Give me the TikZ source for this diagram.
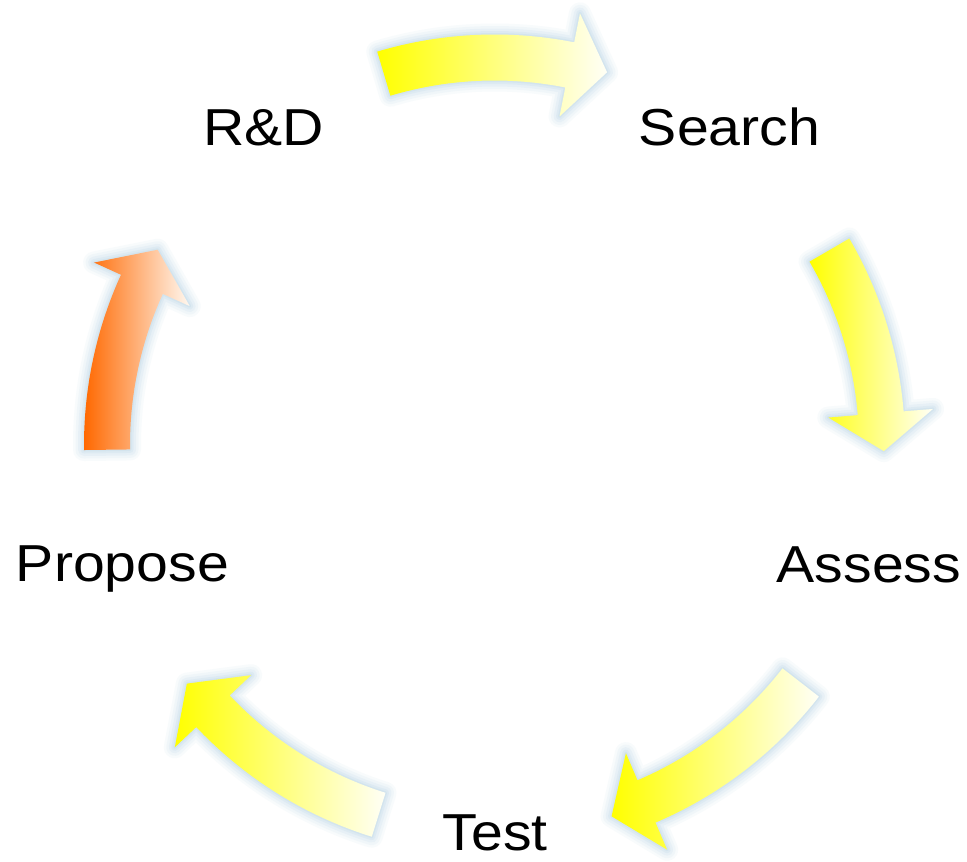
\documentclass[tikz,border=0pt]{standalone}
\usepackage{fontspec}
\setmainfont{Liberation Sans}
\definecolor{glowblue}{RGB}{190,216,232}
\definecolor{hotyellow}{RGB}{255,255,0}
\definecolor{paleyellow}{RGB}{255,255,246}
\definecolor{hotorange}{RGB}{255,104,0}
\definecolor{paleorange}{RGB}{255,248,240}

% ring geometry (1 unit = 1pt, y grows downwards)
\def\cx{494.5}\def\cy{445}
\def\R{387.5}   % centre line of the ring
\def\hw{23}     % half width of a shaft
\def\hh{52.5}   % half width of a head
\def\hl{38}     % length of a head

% curved arrow along the ring, from angle #1 to angle #2 (clockwise)
\newcommand{\ringarrow}[2]{%
  plot[domain=#1:#2,samples=40] ({\cx+(\R+\hw)*cos(\x)},{\cy+(\R+\hw)*sin(\x)})
  -- ({\cx+(\R+\hh)*cos(#2)},{\cy+(\R+\hh)*sin(#2)})
  -- ({\cx+\R*cos(#2)-\hl*sin(#2)},{\cy+\R*sin(#2)+\hl*cos(#2)})
  -- ({\cx+(\R-\hh)*cos(#2)},{\cy+(\R-\hh)*sin(#2)})
  -- plot[domain=#2:#1,samples=40] ({\cx+(\R-\hw)*cos(\x)},{\cy+(\R-\hw)*sin(\x)})
  -- cycle}

% soft halo, then the shaded body
\newcommand{\drawringarrow}[4]{%
  \foreach \lw/\op in {22/0.10,17/0.13,12/0.17,7/0.22,3/0.3}{
    \draw[line width=\lw pt, draw=glowblue, opacity=\op, line join=round] \ringarrow{#1}{#2};
  }
  \shade[left color=#3, right color=#4] \ringarrow{#1}{#2};
}

\tikzset{
  lbl/.style={anchor=base, inner sep=0pt, xscale=1.1,
    font=\fontsize{52}{60}\selectfont, text=black}
}

\begin{document}
\begin{tikzpicture}[x=1pt,y=-1pt]
  \useasboundingbox[fill=white] (0,0) rectangle (967,862);

  \drawringarrow{253.4}{281.2}{hotyellow}{paleyellow}
  \drawringarrow{329.8}{355.3}{hotyellow}{paleyellow}
  \drawringarrow{37.8}{66.9}{hotyellow}{paleyellow}
  \drawringarrow{107.4}{136.6}{hotyellow}{paleyellow}
  \drawringarrow{179.3}{204.5}{hotorange}{paleorange}

  \node[lbl] (rd)      at (263.5,145) {R\&D};
  \node[lbl] (search)  at (729.5,145) {Search};
  \node[lbl] (assess)  at (869,582)   {Assess};
  \node[lbl] (test)    at (495,850)   {Test};
  \node[lbl] (propose) at (122.5,581) {Propose};
\end{tikzpicture}
\end{document}
